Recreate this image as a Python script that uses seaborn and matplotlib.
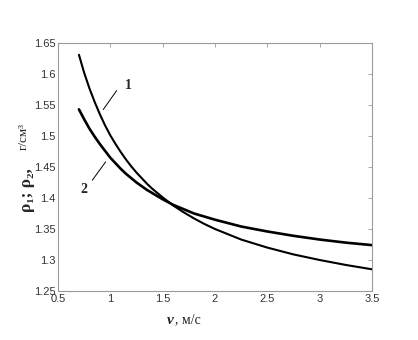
import matplotlib
matplotlib.use("Agg")
import matplotlib.pyplot as plt
import seaborn as sns
import pandas as pd

# data
v = [0.7, 0.75, 0.8, 0.85, 0.9, 0.95, 1.0, 1.05, 1.1, 1.15, 1.2, 1.25, 1.3, 1.35, 1.4, 1.5,
     1.6, 1.7, 1.8, 1.9, 2.0, 2.25, 2.5, 2.75, 3.0, 3.25, 3.5]
rho1 = [1.631, 1.602, 1.577, 1.555, 1.535, 1.517, 1.501, 1.487, 1.474, 1.462, 1.451, 1.441,
        1.432, 1.423, 1.415, 1.401, 1.388, 1.377, 1.367, 1.358, 1.350,
        1.333, 1.320, 1.309, 1.300, 1.292, 1.285]
rho2 = [1.543, 1.527, 1.512, 1.499, 1.487, 1.476, 1.465, 1.456, 1.447, 1.439, 1.432, 1.425,
        1.419, 1.413, 1.408, 1.398, 1.389, 1.382, 1.375, 1.370, 1.365,
        1.354, 1.346, 1.339, 1.333, 1.328, 1.324]
xticks = [0.5, 1, 1.5, 2, 2.5, 3, 3.5]
xtick_labels = ["0.5", "1", "1.5", "2", "2.5", "3", "3.5"]
yticks = [1.25, 1.3, 1.35, 1.4, 1.45, 1.5, 1.55, 1.6, 1.65]
ytick_labels = ["1.25", "1.3", "1.35", "1.4", "1.45", "1.5", "1.55", "1.6", "1.65"]

df = pd.DataFrame({"v": v * 2, "rho": rho1 + rho2,
                   "curve": ["1"] * len(v) + ["2"] * len(v)})

sns.set_style("white")
fig = plt.figure(figsize=(4.18, 3.4), dpi=100)
ax = fig.add_axes([58 / 418, 49 / 340, 314 / 418, 248 / 340])

sns.lineplot(data=df[df.curve == "1"], x="v", y="rho", color="black", lw=1.5, ax=ax)
sns.lineplot(data=df[df.curve == "2"], x="v", y="rho", color="black", lw=1.9, ax=ax)

ax.set_xlim(0.5, 3.5)
ax.set_ylim(1.25, 1.65)
ax.set_xticks(xticks)
ax.set_xticklabels(xtick_labels)
ax.set_yticks(yticks)
ax.set_yticklabels(ytick_labels)
ax.set_xlabel("")
ax.set_ylabel("")
for s in ax.spines.values():
    s.set_visible(True)
    s.set_color("#9a9a9a")
    s.set_linewidth(0.8)
ax.tick_params(direction="in", length=3, width=0.6, color="#9a9a9a",
               top=True, right=True, labelsize=8, labelcolor="#333333",
               labelfontfamily="Liberation Sans", pad=2)

# curve annotations
ax.annotate("", xy=(0.917, 1.539), xytext=(1.076, 1.577),
            arrowprops=dict(arrowstyle="-", color="black", lw=0.7))
ax.text(1.17, 1.582, "1", fontsize=10, fontweight="bold", family="Liberation Serif",
        ha="center", va="center")
ax.annotate("", xy=(0.971, 1.462), xytext=(0.812, 1.425),
            arrowprops=dict(arrowstyle="-", color="black", lw=0.7))
ax.text(0.748, 1.414, "2", fontsize=10, fontweight="bold", family="Liberation Serif",
        ha="center", va="center")

# axis labels
fig.text(27 / 418, 1 - 190 / 340, "ρ₁; ρ₂,", rotation=90, fontsize=12.5, fontweight="bold",
         family=["Liberation Serif", "DejaVu Serif"], ha="center", va="center")
fig.text(24 / 418, 1 - 136 / 340, "г/см³", rotation=90, fontsize=9.5,
         family=["Liberation Serif", "DejaVu Serif"], ha="center", va="center")
fig.text(170 / 418, 1 - 320 / 340, "v", fontsize=11, fontweight="bold", style="italic",
         family="Liberation Serif", ha="center", va="center")
fig.text(175 / 418, 1 - 320 / 340, ", м/с", fontsize=10,
         family="Liberation Serif", ha="left", va="center")

fig.savefig("out.png", dpi=100)
